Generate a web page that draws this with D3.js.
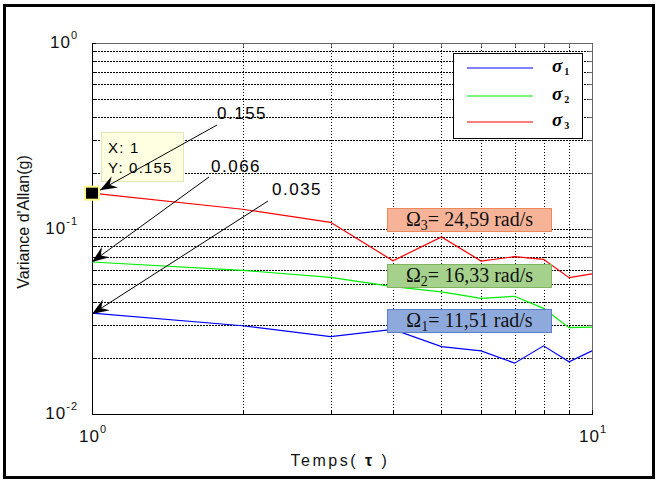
<!DOCTYPE html>
<html><head><meta charset="utf-8">
<script src="https://cdn.jsdelivr.net/npm/d3@7"></script>
<style>
body{margin:0;background:#fff;}
svg{display:block;}
</style></head>
<body>
<svg id="c" width="657" height="481"></svg>
<script>
// ---- data ----
const tau = [1, 2, 3, 4, 5, 6, 7, 8, 9, 10];
const sigma1 = [0.035, 0.0299, 0.0261, 0.0286, 0.0231, 0.0219, 0.0188, 0.0233, 0.0191, 0.0219];
const sigma2 = [0.066, 0.0595, 0.0545, 0.0486, 0.0455, 0.0420, 0.0431, 0.0371, 0.0292, 0.0294];
const sigma3 = [0.155, 0.127, 0.108, 0.067, 0.090, 0.0668, 0.0705, 0.0682, 0.0543, 0.0569];
const seriesNames = ["1", "2", "3"];
const seriesColors = ["#0000ff", "#00ee00", "#ff0000"];
const xTickLabels = [{v: 1, e: "0"}, {v: 10, e: "1"}];
const yTickLabels = [{v: 1, e: "0"}, {v: 0.1, e: "-1"}, {v: 0.01, e: "-2"}];
const xMinor = [2, 3, 4, 5, 6, 7, 8, 9];
const yGrid = [0.02, 0.03, 0.04, 0.05, 0.06, 0.07, 0.08, 0.09, 0.1, 0.2, 0.3, 0.4, 0.5, 0.6, 0.7, 0.8, 0.9];
const startValues = ["0.155", "0.066", "0.035"];
const omegaLabels = [{i: "3", t: "= 24,59 rad/s"}, {i: "2", t: "= 16,33 rad/s"}, {i: "1", t: "= 11,51 rad/s"}];

// ---- layout ----
const svg = d3.select("#c");
const L = 92, R = 592, T = 43, B = 414;
const x = d3.scaleLog().domain([1, 10]).range([L, R]);
const y = d3.scaleLog().domain([0.01, 1]).range([B, T]);
const sans = "'Liberation Sans', Arial, sans-serif";
const serif = "'Liberation Serif', 'Times New Roman', serif";

// outer frame
svg.append("rect").attr("x", 4.5).attr("y", 5.5).attr("width", 649).attr("height", 472)
  .attr("fill", "#fff").attr("stroke", "#000").attr("stroke-width", 3);

// grid
const gx = svg.append("g").attr("transform", `translate(0,${B})`)
  .call(d3.axisBottom(x).tickValues(xMinor).tickSize(-(B - T)).tickFormat(""));
gx.select(".domain").remove();
gx.selectAll("line").attr("stroke", "#000").attr("stroke-dasharray", "1.5,1.5").attr("shape-rendering", "crispEdges");
const gy = svg.append("g").attr("transform", `translate(${L},0)`)
  .call(d3.axisLeft(y).tickValues(yGrid).tickSize(-(R - L)).tickFormat(""));
gy.select(".domain").remove();
gy.selectAll("line").attr("stroke", "#000").attr("stroke-dasharray", "1.5,1.5").attr("shape-rendering", "crispEdges");

// axes with inward ticks
const allY = yGrid.concat([0.01, 1]);
const allX = xMinor.concat([1, 10]);
function styleAxis(g, col) {
  g.selectAll("text").remove();
  g.select(".domain").attr("stroke", col).attr("shape-rendering", "crispEdges");
  g.selectAll("line").attr("stroke", col).attr("shape-rendering", "crispEdges");
}
styleAxis(svg.append("g").attr("transform", `translate(0,${T})`)
  .call(d3.axisTop(x).tickValues(allX).tickSizeInner(-4).tickSizeOuter(0)), "#666");
styleAxis(svg.append("g").attr("transform", `translate(${R},0)`)
  .call(d3.axisRight(y).tickValues(allY).tickSizeInner(-4).tickSizeOuter(0)), "#666");
styleAxis(svg.append("g").attr("transform", `translate(0,${B})`)
  .call(d3.axisBottom(x).tickValues(allX).tickSizeInner(-4).tickSizeOuter(0)), "#000");
styleAxis(svg.append("g").attr("transform", `translate(${L},0)`)
  .call(d3.axisLeft(y).tickValues(allY).tickSizeInner(-4).tickSizeOuter(0)), "#000");

// tick labels
xTickLabels.forEach(d => {
  const t = svg.append("text").attr("x", x(d.v) + 1).attr("y", 442).attr("text-anchor", "middle")
    .attr("font-family", sans).attr("font-size", 17).attr("letter-spacing", 1).attr("fill", "#111");
  t.append("tspan").text("10");
  t.append("tspan").attr("dy", -9).attr("font-size", 11).text(d.e);
});
yTickLabels.forEach(d => {
  const t = svg.append("text").attr("x", 78).attr("y", y(d.v) + 5).attr("text-anchor", "end")
    .attr("font-family", sans).attr("font-size", 17).attr("letter-spacing", 1).attr("fill", "#111");
  t.append("tspan").text("10");
  t.append("tspan").attr("dy", -9).attr("font-size", 11).text(d.e);
});

// axis titles
const xt = svg.append("text").attr("x", 340).attr("y", 466).attr("text-anchor", "middle")
  .attr("font-family", sans).attr("font-size", 16).attr("letter-spacing", 2.5).attr("fill", "#111");
xt.append("tspan").text("Temps( ");
xt.append("tspan").attr("font-weight", "bold").text("τ");
xt.append("tspan").text(" )");
svg.append("text").attr("transform", "translate(29,222) rotate(-90)").attr("text-anchor", "middle")
  .attr("font-family", sans).attr("font-size", 16).attr("fill", "#111").text("Variance d'Allan(g)");

// lines
const allSeries = [sigma1, sigma2, sigma3];
const line = d3.line().x((d, i) => x(tau[i])).y(d => y(d));
allSeries.forEach((s, k) => {
  svg.append("path").datum(s).attr("d", line).attr("fill", "none")
    .attr("stroke", seriesColors[k]).attr("stroke-width", 1.2);
});

// legend
const lg = svg.append("g");
lg.append("rect").attr("x", 453.5).attr("y", 53.5).attr("width", 129).attr("height", 85)
  .attr("fill", "#fff").attr("stroke", "#000").attr("stroke-width", 1);
seriesNames.forEach((n, k) => {
  const ly = [68, 96, 122][k];
  lg.append("line").attr("x1", 467).attr("x2", 533).attr("y1", ly).attr("y2", ly)
    .attr("stroke", seriesColors[k]).attr("stroke-width", 1.2);
  const t = lg.append("text").attr("x", 552).attr("y", ly + 4).attr("font-family", serif)
    .attr("font-weight", "bold").attr("font-style", "italic").attr("font-size", 19).attr("fill", "#000");
  t.append("tspan").text("σ");
  t.append("tspan").attr("dx", 2).attr("dy", 3).attr("font-size", 10).attr("font-style", "normal").text(n);
});

// omega boxes
const boxStyles = [
  {fill: "#f6b397", stroke: "#ed8a5c", y: 208},
  {fill: "#a6d18c", stroke: "#7fb55e", y: 264},
  {fill: "#8eaadc", stroke: "#5b7ec8", y: 309}
];
omegaLabels.forEach((o, k) => {
  const bs = boxStyles[k];
  svg.append("rect").attr("x", 387.5).attr("y", bs.y + 0.5).attr("width", 164).attr("height", 23)
    .attr("fill", bs.fill).attr("stroke", bs.stroke).attr("stroke-width", 1);
  const t = svg.append("text").attr("x", 469.5).attr("y", bs.y + 18).attr("text-anchor", "middle")
    .attr("font-family", serif).attr("font-size", 20).attr("fill", "#111");
  t.append("tspan").text("Ω");
  t.append("tspan").attr("dy", 4).attr("font-size", 14).text(o.i);
  t.append("tspan").attr("dy", -4).text(o.t);
});

// arrow marker
svg.append("defs").append("marker").attr("id", "ah").attr("markerUnits", "userSpaceOnUse")
  .attr("viewBox", "-17 -7 18 14").attr("refX", 0).attr("refY", 0)
  .attr("markerWidth", 18).attr("markerHeight", 14).attr("orient", "auto")
  .append("path").attr("d", "M0,0 L-17,-6.5 L-11,0 L-17,6.5 Z").attr("fill", "#000");

// data tip
svg.append("rect").attr("x", 101.5).attr("y", 132.5).attr("width", 82).attr("height", 49)
  .attr("fill", "#ffffe1").attr("stroke", "#e6e6b4").attr("stroke-width", 1);
svg.append("text").attr("x", 108).attr("y", 153).attr("font-family", sans).attr("font-size", 15)
  .attr("letter-spacing", 1.2).attr("fill", "#000").text("X: " + tau[0]);
svg.append("text").attr("x", 108).attr("y", 173).attr("font-family", sans).attr("font-size", 15)
  .attr("letter-spacing", 1.2).attr("fill", "#000").text("Y: " + sigma3[0]);
svg.append("rect").attr("x", x(tau[0]) - 7).attr("y", y(sigma3[0]) - 6.5).attr("width", 14).attr("height", 13)
  .attr("fill", "#000").attr("stroke", "#ffff88").attr("stroke-width", 2);

// annotation arrows and values
const ann = [
  {tx: 217, ty: 119, sx: 217, sy: 125, dx: 8, dy: -3},
  {tx: 211, ty: 172, sx: 209, sy: 177, dx: 0, dy: 0},
  {tx: 272, ty: 195, sx: 268, sy: 201, dx: 0, dy: 1}
];
allSeries.slice().reverse().forEach((s, k) => {
  const a = ann[k];
  svg.append("line").attr("x1", a.sx).attr("y1", a.sy)
    .attr("x2", x(tau[0]) + a.dx).attr("y2", y(s[0]) + a.dy)
    .attr("stroke", "#000").attr("stroke-width", 1).attr("marker-end", "url(#ah)");
  svg.append("text").attr("x", a.tx).attr("y", a.ty).attr("font-family", sans).attr("font-size", 17)
    .attr("letter-spacing", 1.5).attr("fill", "#000").text(startValues[k]);
});
</script>
</body></html>
